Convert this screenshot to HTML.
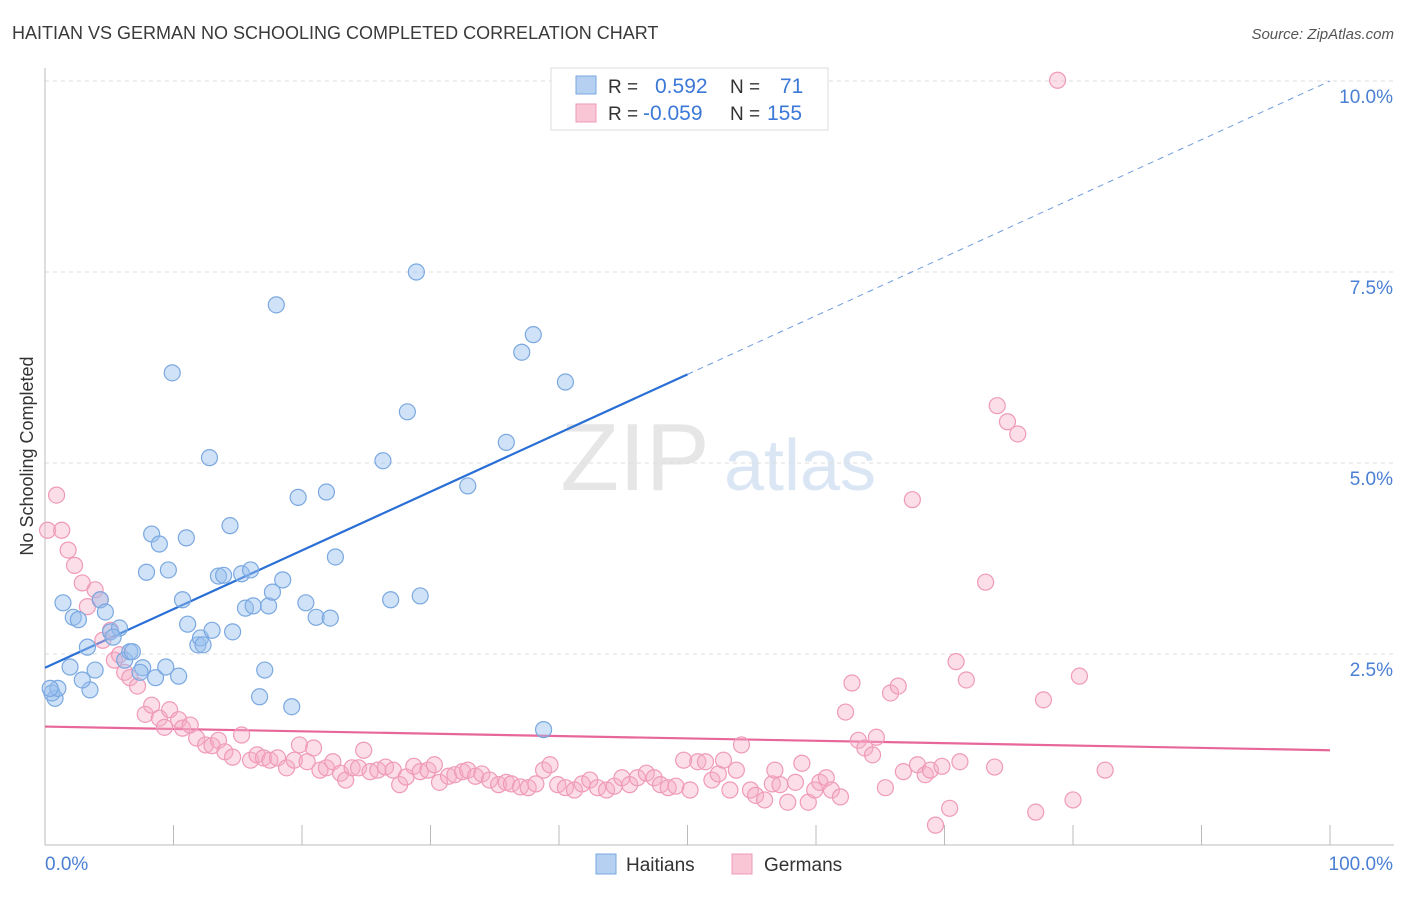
<!DOCTYPE html>
<html><head><meta charset="utf-8"><style>
body{margin:0;background:#fff;font-family:"Liberation Sans",sans-serif;}
svg text{font-family:"Liberation Sans",sans-serif;}
</style></head><body>
<svg id="chart" width="1406" height="892" xmlns="http://www.w3.org/2000/svg">
<text x="12" y="39" font-size="18" fill="#3a3a3a">HAITIAN VS GERMAN NO SCHOOLING COMPLETED CORRELATION CHART</text>
<text x="1394" y="39" font-size="15" fill="#555" font-style="italic" text-anchor="end">Source: ZipAtlas.com</text>
<text transform="translate(33,456) rotate(-90)" font-size="18" fill="#333" text-anchor="middle">No Schooling Completed</text>
<g><text x="635" y="490" font-size="96" fill="#e6e6e6" font-family="Liberation Serif" text-anchor="middle">ZIP</text><text x="800" y="490" font-size="72" fill="#dbe6f5" text-anchor="middle">atlas</text></g>
<g id="grid"></g><g id="axes"></g><g id="lines"></g><g id="pts"></g>
<g>
<rect x="551" y="68" width="277" height="62" fill="#fff" stroke="#ddd"/>
<rect x="576" y="76" width="20" height="18" fill="#b6d0f2" stroke="#7aa8e0"/>
<rect x="576" y="104" width="20" height="18" fill="#f9c6d6" stroke="#ef9ab8"/>
<text x="608" y="93" font-size="19" fill="#333">R = </text><text x="655" y="93" font-size="21" fill="#3c78d8">0.592</text>
<text x="730" y="93" font-size="19" fill="#333">N = </text><text x="780" y="93" font-size="21" fill="#3c78d8">71</text>
<text x="608" y="120" font-size="19" fill="#333">R = </text><text x="643" y="120" font-size="21" fill="#3c78d8">-0.059</text>
<text x="730" y="120" font-size="19" fill="#333">N = </text><text x="767" y="120" font-size="21" fill="#3c78d8">155</text>
</g>
<g>
<rect x="596" y="854" width="20" height="20" fill="#b6d0f2" stroke="#7aa8e0"/>
<text x="626" y="871" font-size="19" fill="#333">Haitians</text>
<rect x="732" y="854" width="20" height="20" fill="#f9c6d6" stroke="#ef9ab8"/>
<text x="764" y="871" font-size="19" fill="#333">Germans</text>
</g>
</svg>
<script>
const yTicks=[2.5,5.0,7.5,10.0];
const yTickLabels=["2.5%","5.0%","7.5%","10.0%"];
const xTickLabels=["0.0%","100.0%"];
const blueX=[0.78,0.54,1.0,1.95,3.5,2.9,3.9,1.4,2.2,2.6,3.3,4.3,4.7,5.1,5.8,5.3,6.2,6.6,6.8,7.6,7.4,8.6,9.4,10.4,7.9,8.3,8.9,9.6,11.0,10.7,11.1,11.9,12.1,12.3,13.0,13.5,13.9,14.4,14.6,15.3,16.0,15.6,16.2,17.4,17.7,18.5,20.3,21.1,22.2,22.6,17.1,16.7,19.2,12.8,9.9,18.0,19.7,21.9,26.3,28.2,28.9,26.9,29.2,32.9,35.9,37.1,38.0,40.5,38.8,0.4];
const blueY=[1.92,1.99,2.05,2.33,2.03,2.16,2.29,3.17,2.98,2.95,2.59,3.21,3.05,2.79,2.84,2.72,2.42,2.53,2.53,2.32,2.26,2.19,2.33,2.21,3.57,4.07,3.94,3.60,4.02,3.21,2.89,2.62,2.71,2.62,2.81,3.52,3.53,4.18,2.79,3.55,3.60,3.10,3.13,3.13,3.31,3.47,3.17,2.98,2.97,3.77,2.29,1.94,1.81,5.07,6.18,7.07,4.55,4.62,5.03,5.67,7.50,3.21,3.26,4.70,5.27,6.45,6.68,6.06,1.51,2.05];
const pinkX=[0.2,0.9,1.3,1.8,2.3,2.9,3.3,3.9,4.3,4.5,5.1,5.4,5.8,6.2,6.6,7.2,7.8,8.3,8.9,9.3,9.7,10.4,10.7,11.3,11.8,12.5,13.0,13.5,14.0,14.6,15.3,16.0,16.5,17.0,17.5,18.1,18.8,19.4,19.8,20.4,20.9,21.4,21.9,22.4,23.0,23.4,23.9,24.4,24.8,25.3,25.9,26.5,27.1,27.6,28.1,28.7,29.2,29.8,30.3,30.7,31.4,31.9,32.5,32.9,33.5,34.0,34.6,35.3,35.9,36.3,37.0,37.6,38.2,38.8,39.3,39.9,40.5,41.2,41.8,42.4,43.0,43.7,44.3,44.9,45.5,46.1,46.8,47.4,47.9,48.5,49.1,49.7,50.2,50.8,51.4,51.9,52.4,52.8,53.3,53.8,54.2,54.9,55.3,56.0,56.6,57.2,57.8,58.4,58.9,59.4,59.9,60.3,60.8,61.2,61.9,62.3,62.8,63.3,63.8,64.4,64.7,65.4,65.8,66.4,66.8,67.5,67.9,68.5,68.9,69.3,69.8,70.4,70.9,71.2,71.7,73.2,73.9,74.1,74.9,75.7,77.1,77.7,78.8,80.0,80.5,82.5,56.8];
const pinkY=[4.12,4.58,4.12,3.86,3.66,3.43,3.12,3.34,3.21,2.68,2.81,2.42,2.49,2.26,2.19,2.08,1.71,1.83,1.66,1.54,1.77,1.64,1.53,1.57,1.40,1.31,1.30,1.37,1.22,1.15,1.44,1.11,1.18,1.14,1.11,1.14,1.01,1.11,1.31,1.09,1.27,0.98,1.01,1.09,0.94,0.85,1.01,1.01,1.24,0.96,0.98,1.02,0.98,0.79,0.89,1.03,0.96,0.98,1.05,0.82,0.90,0.92,0.96,0.98,0.90,0.93,0.85,0.79,0.82,0.80,0.76,0.75,0.80,0.98,1.05,0.79,0.75,0.72,0.80,0.85,0.75,0.72,0.77,0.88,0.79,0.88,0.94,0.88,0.79,0.75,0.77,1.11,0.72,1.09,1.09,0.85,0.93,1.11,0.72,0.98,1.31,0.72,0.65,0.59,0.80,0.79,0.56,0.82,1.07,0.56,0.72,0.82,0.88,0.72,0.63,1.74,2.12,1.37,1.27,1.18,1.41,0.75,1.99,2.08,0.96,4.52,1.05,0.92,0.98,0.26,1.03,0.48,2.40,1.09,2.16,3.44,1.02,5.75,5.54,5.38,0.43,1.90,10.01,0.59,2.21,0.98,0.98];
const blueFit=[2.32,10.0];
const pinkFit=[1.55,1.24];
const NS="http://www.w3.org/2000/svg";
const X=v=>45+v*12.85, Y=v=>845-v*76.4;
function mk(tag,attrs,parent){const e=document.createElementNS(NS,tag);for(const k in attrs)e.setAttribute(k,attrs[k]);document.getElementById(parent).appendChild(e);return e;}
yTicks.forEach((t,i)=>{
 const g=mk('line',{x1:45,x2:1394,y1:Y(t),y2:Y(t),stroke:'#ddd','stroke-dasharray':'4,4'},'grid');
 
 
 const l=mk('text',{x:1393,y:Y(t)+22,'font-size':19,fill:'#4a7fd4','text-anchor':'end'},'grid');
 l.textContent=yTickLabels[i];
 
 
});
const ya=mk('line',{x1:45,x2:45,y1:68,y2:845,stroke:'#bbb'},'axes');


const xa=mk('line',{x1:45,x2:1394,y1:845,y2:845,stroke:'#bbb'},'axes');


for(let i=1;i<=10;i++){const t=mk('line',{x1:X(i*10),x2:X(i*10),y1:825,y2:845,stroke:'#bbb'},'axes');
 
 }
[[0,'start',45],[100,'end',1393]].forEach((d,i)=>{const t=mk('text',{x:d[2],y:870,'font-size':19,fill:'#4a7fd4','text-anchor':d[1]},'axes');t.textContent=xTickLabels[i];
 
 });
function pt(x,y,c,s,name){const e=mk('circle',{cx:X(x),cy:Y(y),r:8,fill:c,stroke:s,'stroke-width':1.2},'pts');
 
 }
pinkX.forEach((x,i)=>pt(x,pinkY[i],'rgba(246,172,198,0.4)','#ef9ab8','german-point'));
blueX.forEach((x,i)=>pt(x,blueY[i],'rgba(150,190,238,0.45)','#7aa8e0','haitian-point'));
const bf=v=>blueFit[0]+(blueFit[1]-blueFit[0])*v/100;
const b1=mk('line',{x1:X(0),y1:Y(bf(0)),x2:X(50),y2:Y(bf(50)),stroke:'#2a6fd6','stroke-width':2.2},'lines');


const b2=mk('line',{x1:X(50),y1:Y(bf(50)),x2:X(100),y2:Y(bf(100)),stroke:'#6f9be0','stroke-width':1,'stroke-dasharray':'6,5'},'lines');


const p1=mk('line',{x1:X(0),y1:Y(pinkFit[0]),x2:X(100),y2:Y(pinkFit[1]),stroke:'#e8679a','stroke-width':2.2},'lines');


</script>
</body></html>
